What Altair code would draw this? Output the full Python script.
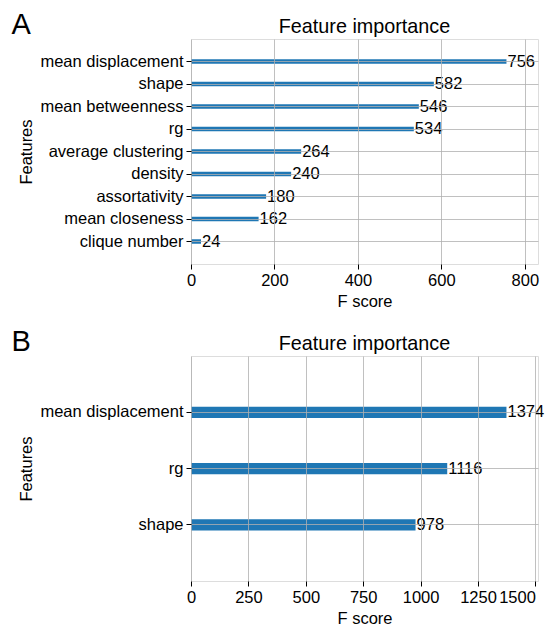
import altair as alt
import pandas as pd

features_a = ["mean displacement", "shape", "mean betweenness", "rg",
              "average clustering", "density", "assortativity",
              "mean closeness", "clique number"]
scores_a = [756, 582, 546, 534, 264, 240, 180, 162, 24]
ticks_a = [0, 200, 400, 600, 800]

features_b = ["mean displacement", "rg", "shape"]
scores_b = [1374, 1116, 978]
ticks_b = [0, 250, 500, 750, 1000, 1250, 1500]

FONT = "Liberation Sans"
BLUE = "#1f77b4"
GRID = "#b0b0b0"
FS = 16.5


def panel(features, scores, ticks, letter, height):
    df = pd.DataFrame({"feature": features, "score": scores})
    xmax = max(scores) * 1.1
    last = ticks[-1]
    x = alt.X("score:Q",
              scale=alt.Scale(domain=[0, xmax], nice=False, zero=True),
              axis=alt.Axis(values=ticks, format="d", title="F score",
                            grid=True, gridColor=GRID, gridWidth=0.8,
                            zindex=1, labelFontSize=FS, titleFontSize=FS,
                            labelFont=FONT, titleFont=FONT,
                            titleFontWeight="normal", labelColor="black",
                            titleColor="black", tickColor="black",
                            tickSize=5, domain=False, labelPadding=3,
                            titlePadding=5, labelFlush=False,
                            labelAlign={"condition": {
                                "test": f"datum.value >= {last} && {last} > 1000",
                                "value": "right"}, "value": "center"}))
    y = alt.Y("feature:N", sort=features,
              scale=alt.Scale(paddingInner=0.8, paddingOuter=0.9),
              axis=alt.Axis(title="Features", grid=True, gridColor=GRID,
                            gridWidth=0.8, bandPosition=0.5, zindex=1,
                            labelFontSize=FS, titleFontSize=FS,
                            labelFont=FONT, titleFont=FONT,
                            titleFontWeight="normal", labelColor="black",
                            titleColor="black", tickColor="black",
                            tickSize=5, domain=False, labelPadding=3,
                            titlePadding=5, labelLimit=300))
    bars = alt.Chart(df).mark_bar(color=BLUE).encode(x=x, y=y)
    labels = alt.Chart(df).mark_text(
        align="left", baseline="middle", fontSize=FS, font=FONT,
        color="black", dx=1
    ).encode(x="score:Q", y=alt.Y("feature:N", sort=features), text="score:Q")
    layer = alt.layer(bars, labels).properties(
        width=347, height=height,
        title=alt.Title("Feature importance", fontSize=19.8, font=FONT,
                        fontWeight="normal", color="black", offset=2,
                        anchor="middle"))
    return alt.vconcat(layer).properties(
        title=alt.Title(letter, anchor="start", fontSize=29, font=FONT,
                        fontWeight="normal", color="black", offset=-23,
                        baseline="top", dx=-7))


chart = alt.vconcat(
    panel(features_a, scores_a, ticks_a, "A", 225),
    panel(features_b, scores_b, ticks_b, "B", 225),
    spacing=16,
).configure_view(stroke="black", strokeWidth=1).configure(
    padding={"left": 3, "top": 2, "right": 0, "bottom": 5})

chart.save("out.html", embed_options={"renderer": "svg", "actions": False})
